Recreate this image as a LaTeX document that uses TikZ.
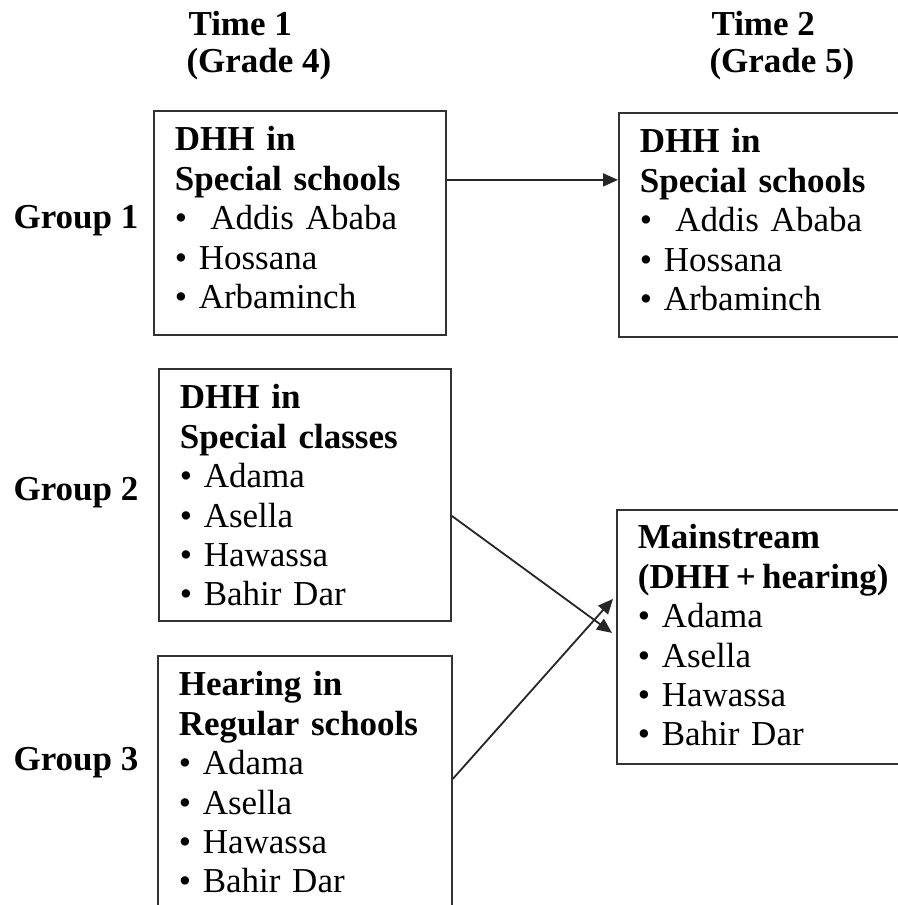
\documentclass[tikz,border=0pt]{standalone}
\usepackage{fontspec}
\setmainfont{Liberation Serif}
\usetikzlibrary{positioning,arrows.meta,calc}

\begin{document}
\begin{tikzpicture}[x=1pt, y=-1pt, >={Triangle[length=15pt,width=13pt]}, font=\fontsize{35pt}{39.4pt}\selectfont]
\tikzset{grp/.style={draw=black!80, line width=1.8pt, anchor=north west, align=left, inner xsep=21pt, inner ysep=0pt, text height=40pt},
  lab/.style={anchor=base west, font=\fontsize{35pt}{37pt}\selectfont\bfseries},
  link/.style={->, line width=1.8pt, black!85}}
\useasboundingbox (0,0) rectangle (897,905);
% column and row headings
\node[lab] (time1) at (185,35) {Time 1};
\node[lab] (grade4) at (183,72) {(Grade 4)};
\node[lab] (time2) at (708,35) {Time 2};
\node[lab] (grade5) at (706,72) {(Grade 5)};
\node[lab] (grp1) at (10,228) {Group 1};
\node[lab] (grp2) at (10,500) {Group 2};
\node[lab] (grp3) at (10,770) {Group 3};
% boxes
\node[grp, text width=250pt, text depth=184pt] (sch1) at (153,110)
  {\textbf{DHH in}\\ \textbf{Special schools}\\ \textbullet~ Addis Ababa\\ \textbullet\ Hossana\\ \textbullet\ Arbaminch};
\node[grp, text width=280pt, text depth=184pt] (sch2) at (618,112)
  {\textbf{DHH in}\\ \textbf{Special schools}\\ \textbullet~ Addis Ababa\\ \textbullet\ Hossana\\ \textbullet\ Arbaminch};
\node[grp, text width=250pt, text depth=212pt] (cls1) at (158,368)
  {\textbf{DHH in}\\ \textbf{Special classes}\\ \textbullet\ Adama\\ \textbullet\ Asella\\ \textbullet\ Hawassa\\ \textbullet\ Bahir Dar};
\node[grp, text width=252pt, text depth=225pt] (reg1) at (157,655)
  {\textbf{Hearing in}\\ \textbf{Regular schools}\\ \textbullet\ Adama\\ \textbullet\ Asella\\ \textbullet\ Hawassa\\ \textbullet\ Bahir Dar};
\node[grp, text width=280pt, text height=39pt, text depth=215pt] (main2) at (616,509)
  {\textbf{Mainstream}\\ \textbf{(DHH\hspace{6.5pt}+\hspace{6.5pt}hearing)}\\ \textbullet\ Adama\\ \textbullet\ Asella\\ \textbullet\ Hawassa\\ \textbullet\ Bahir Dar};
% arrows
\coordinate (a1) at ([yshift=43pt]sch1.east);
\draw[link] (a1) -- (a1 -| sch2.west);
\draw[link] ([yshift=-21pt]cls1.east) -- ([xshift=-4pt,yshift=4pt]main2.west);
\draw[link] ([yshift=9.5pt]reg1.east) -- ([xshift=-3pt,yshift=38pt]main2.west);
\end{tikzpicture}
\end{document}
